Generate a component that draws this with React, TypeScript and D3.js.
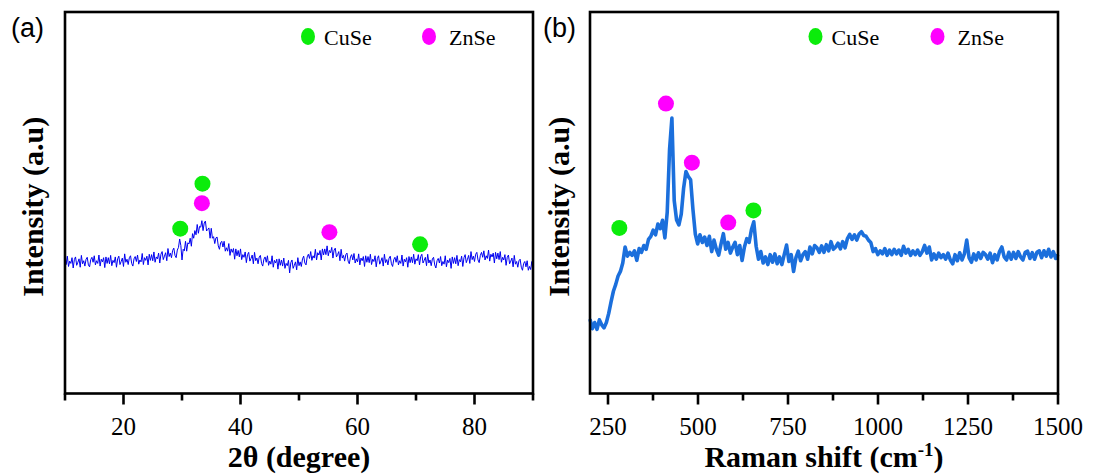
import React from "react";
import * as d3 from "d3";

const W = 1094;
const H = 475;

// XRD pattern: 2θ from 10° to 90° in 0.2° steps
const XRD_START = 10;
const XRD_STEP = 0.2;
const XRD_INTENSITY = [
  35.4, 33.8, 36.0, 33.3, 34.7, 34.1, 35.6, 32.9, 35.1, 35.8,
  33.6, 34.4, 35.3, 33.1, 36.2, 34.0, 34.8, 33.4, 35.2, 35.7,
  33.7, 33.2, 35.1, 35.7, 34.4, 36.1, 33.7, 34.8, 34.1, 36.3,
  33.4, 35.2, 34.5, 35.6, 33.0, 35.8, 34.1, 35.6, 34.0, 36.2,
  33.5, 34.9, 34.3, 35.8, 33.1, 35.3, 36.0, 33.8, 34.6, 35.5,
  33.3, 36.6, 34.4, 35.2, 33.8, 35.6, 36.1, 34.1, 33.4, 35.3,
  35.9, 34.6, 36.3, 33.9, 35.0, 34.5, 36.7, 33.8, 35.6, 34.9,
  36.0, 33.7, 36.5, 34.9, 36.4, 34.8, 37.1, 34.4, 35.8, 35.3,
  36.8, 34.2, 36.5, 37.2, 35.1, 36.0, 36.9, 34.8, 38.0, 35.9,
  36.8, 35.6, 37.5, 38.1, 36.2, 35.6, 37.6, 38.3, 40.5, 38.8,
  35.0, 37.8, 37.4, 39.9, 37.3, 39.5, 39.2, 40.7, 38.6, 41.9,
  40.7, 42.7, 41.6, 44.3, 42.0, 43.8, 43.6, 45.3, 42.7, 44.7,
  45.2, 42.6, 43.0, 43.4, 40.7, 43.3, 40.7, 41.1, 39.3, 40.8,
  41.0, 38.7, 37.8, 39.5, 39.9, 38.4, 39.9, 37.3, 38.2, 37.3,
  39.3, 36.2, 37.9, 37.0, 38.0, 35.2, 37.9, 36.1, 37.5, 35.8,
  37.9, 35.1, 36.4, 35.7, 37.1, 34.3, 36.4, 37.0, 34.7, 35.4,
  36.3, 34.0, 37.0, 34.8, 35.5, 34.0, 35.8, 36.2, 34.1, 33.4,
  35.2, 35.8, 34.4, 36.1, 33.6, 34.7, 33.9, 36.1, 33.1, 34.9,
  34.2, 35.2, 32.6, 35.3, 33.6, 35.0, 33.4, 35.5, 32.8, 34.1,
  33.5, 34.9, 31.6, 34.3, 35.0, 32.8, 33.6, 34.5, 32.4, 35.6,
  33.5, 34.5, 33.3, 35.3, 36.0, 34.2, 33.7, 35.8, 36.5, 35.4,
  37.2, 34.9, 36.1, 35.5, 37.8, 35.0, 36.9, 36.3, 37.5, 35.0,
  37.9, 36.3, 37.9, 36.4, 38.7, 36.1, 37.5, 36.9, 38.3, 35.5,
  37.6, 38.1, 35.8, 36.4, 37.2, 34.8, 37.8, 35.5, 36.2, 34.7,
  36.4, 36.8, 34.7, 34.0, 35.8, 36.4, 35.0, 36.7, 34.2, 35.3,
  34.5, 36.6, 33.7, 35.5, 34.8, 35.9, 33.3, 36.1, 34.4, 35.9,
  34.3, 36.5, 33.8, 35.2, 34.6, 36.1, 33.2, 35.4, 36.1, 33.9,
  34.7, 35.6, 33.4, 36.5, 34.3, 35.1, 33.7, 35.5, 36.0, 34.0,
  33.3, 35.1, 35.7, 34.4, 36.1, 33.7, 34.8, 34.1, 36.3, 33.4,
  35.2, 34.5, 35.6, 33.1, 35.9, 34.3, 35.8, 34.3, 36.5, 33.9,
  35.3, 34.8, 36.4, 33.7, 35.9, 36.5, 34.2, 34.9, 35.7, 33.5,
  36.5, 34.2, 35.0, 33.5, 35.3, 35.7, 33.7, 32.9, 34.8, 35.4,
  34.2, 35.9, 33.5, 34.6, 33.9, 36.1, 33.2, 35.0, 34.3, 35.4,
  32.8, 35.8, 34.1, 35.6, 34.0, 36.2, 33.5, 35.1, 34.5, 36.0,
  33.3, 35.6, 36.4, 34.3, 35.2, 36.2, 34.1, 37.2, 35.1, 36.0,
  34.6, 36.5, 37.0, 35.0, 34.3, 36.2, 37.0, 35.7, 37.4, 35.0,
  36.1, 35.4, 37.6, 34.7, 36.5, 35.8, 36.8, 34.2, 37.0, 35.3,
  36.8, 35.1, 37.2, 34.4, 35.7, 35.0, 36.4, 33.6, 35.7, 36.3,
  34.0, 34.7, 35.5, 33.2, 36.2, 33.9, 34.6, 33.1, 34.8, 35.2,
  33.1, 32.3, 34.1, 34.6, 33.2, 34.8, 32.3, 33.3, 32.5, 34.6,
  31.6,
];
const XRD_DOMAIN = [10, 90];
const XRD_MAJOR_TICKS = [20, 40, 60, 80];
const XRD_MINOR_TICKS = [10, 30, 50, 70, 90];
// assigned reflections [2θ, marker height]
const XRD_CUSE = [[29.7, 43.2], [33.5, 55.0], [70.7, 39.1]];
const XRD_ZNSE = [[33.4, 49.9], [55.2, 42.3]];

// Raman spectrum: 200–1500 cm⁻¹ in 6.5 cm⁻¹ steps
const RAMAN_START = 200;
const RAMAN_STEP = 6.5;
const RAMAN_INTENSITY = [
  19.5, 17.0, 18.6, 16.8, 19.3, 18.0, 17.2, 18.6, 21.0, 24.0,
  26.8, 28.6, 30.8, 32.0, 34.2, 38.4, 36.0, 37.0, 36.2, 37.4,
  34.9, 38.0, 37.0, 38.8, 37.8, 40.4, 41.2, 42.8, 41.6, 44.4,
  43.2, 45.4, 40.8, 47.5, 64.0, 72.2, 50.5, 45.5, 44.2, 47.0,
  53.8, 58.2, 56.9, 56.0, 48.2, 41.8, 39.2, 41.6, 39.6, 41.0,
  38.8, 41.2, 37.2, 40.2, 37.8, 36.3, 39.2, 41.9, 37.8, 39.6,
  36.8, 38.4, 39.6, 36.4, 38.8, 34.9, 38.4, 40.6, 39.6, 43.0,
  45.0, 38.6, 35.2, 37.2, 34.2, 35.8, 33.8, 36.4, 34.4, 36.6,
  34.0, 35.8, 33.8, 36.4, 38.9, 34.6, 36.4, 32.0, 35.6, 37.3,
  34.8, 36.4, 37.2, 35.2, 38.4, 36.6, 38.8, 38.2, 37.0, 38.7,
  37.0, 39.0, 37.4, 39.8, 37.8, 38.4, 39.4, 37.9, 39.8, 38.2,
  40.6, 41.7, 40.4, 41.6, 40.2, 41.8, 42.4, 41.4, 41.2, 40.2,
  39.6, 37.2, 38.0, 36.4, 37.4, 36.6, 38.0, 36.2, 37.6, 36.4,
  37.8, 36.6, 37.6, 36.2, 38.6, 36.8, 37.8, 36.2, 37.4, 36.4,
  37.6, 36.2, 37.2, 38.8, 36.8, 38.4, 35.0, 36.6, 35.2, 36.8,
  35.6, 36.4, 35.2, 36.8, 35.0, 34.0, 36.4, 34.8, 36.9, 35.0,
  36.6, 40.2, 35.6, 34.4, 36.6, 35.0, 36.9, 35.4, 37.0, 36.4,
  35.2, 36.8, 34.3, 36.4, 35.0, 37.2, 38.4, 35.8, 35.0, 37.0,
  35.2, 37.0, 35.4, 37.2, 35.8, 35.0, 37.0, 37.3, 35.4, 36.9,
  35.2, 37.0, 37.4, 35.6, 37.4, 36.0, 37.8, 35.8, 37.2, 35.4,
  36.4,
];
const RAMAN_DOMAIN = [200, 1500];
const RAMAN_MAJOR_TICKS = [250, 500, 750, 1000, 1250, 1500];
const RAMAN_MINOR_TICKS = [375, 625, 875, 1125, 1375];
const RAMAN_CUSE = [[281.5, 43.4], [654, 48.0]];
const RAMAN_ZNSE = [[411, 76.0], [483, 60.5], [584, 44.8]];

const LEGEND = ["CuSe", "ZnSe"];

const INTENSITY_DOMAIN = [0, 100];
const TOP = 12;
const BOTTOM = 393.5;
const GREEN = "#0bec0b";
const MAGENTA = "#ff00ff";
const SERIF = "Liberation Serif, Times New Roman, serif";
const SANS = "Liberation Sans, Arial, sans-serif";

type PanelProps = {
  left: number;
  right: number;
  domain: number[];
  start: number;
  step: number;
  values: number[];
  major: number[];
  minor: number[];
  cuse: number[][];
  znse: number[][];
  color: string;
  width: number;
  tag: string;
  tagX: number;
  yLabelX: number;
  legendX: number[];
  title: React.ReactNode;
};

function Panel(p: PanelProps) {
  const x = d3.scaleLinear().domain(p.domain).range([p.left, p.right]);
  const y = d3.scaleLinear().domain(INTENSITY_DOMAIN).range([BOTTOM, TOP]);
  const line = d3
    .line<number>()
    .x((_, i) => x(p.start + i * p.step))
    .y((d) => y(d));
  const midX = (p.left + p.right) / 2;
  const midY = (TOP + BOTTOM) / 2;
  return (
    <g>
      <text x={p.tagX} y={37} fontFamily={SANS} fontSize={27}>
        {p.tag}
      </text>
      <path
        d={line(p.values) ?? ""}
        fill="none"
        stroke={p.color}
        strokeWidth={p.width}
        strokeLinejoin="round"
      />
      {p.cuse.map(([cx, cy], i) => (
        <circle key={"c" + i} cx={x(cx)} cy={y(cy)} r={8} fill={GREEN} />
      ))}
      {p.znse.map(([cx, cy], i) => (
        <circle key={"z" + i} cx={x(cx)} cy={y(cy)} r={8} fill={MAGENTA} />
      ))}
      {/* legend */}
      <ellipse cx={p.legendX[0]} cy={36.5} rx={7} ry={8.5} fill={GREEN} />
      <text x={p.legendX[0] + 16} y={44.5} fontFamily={SERIF} fontSize={22}>
        {LEGEND[0]}
      </text>
      <ellipse cx={p.legendX[1]} cy={36.5} rx={7} ry={8.5} fill={MAGENTA} />
      <text x={p.legendX[1] + 20} y={44.5} fontFamily={SERIF} fontSize={22}>
        {LEGEND[1]}
      </text>
      {/* frame */}
      <rect
        x={p.left}
        y={TOP}
        width={p.right - p.left}
        height={BOTTOM - TOP}
        fill="none"
        stroke="#000"
        strokeWidth={2.6}
      />
      {p.major.map((t) => (
        <g key={"M" + t}>
          <line x1={x(t)} x2={x(t)} y1={BOTTOM} y2={BOTTOM + 11} stroke="#000" strokeWidth={2.6} />
          <text x={x(t)} y={435} textAnchor="middle" fontFamily={SERIF} fontSize={25}>
            {t}
          </text>
        </g>
      ))}
      {p.minor.map((t) => (
        <line key={"m" + t} x1={x(t)} x2={x(t)} y1={BOTTOM} y2={BOTTOM + 7} stroke="#000" strokeWidth={2.6} />
      ))}
      <text x={midX} y={467} textAnchor="middle" fontFamily={SERIF} fontSize={30} fontWeight="bold">
        {p.title}
      </text>
      <text
        transform={`translate(${p.yLabelX},${midY + 4}) rotate(-90)`}
        textAnchor="middle"
        fontFamily={SERIF}
        fontSize={30}
        fontWeight="bold"
      >
        Intensity (a.u)
      </text>
    </g>
  );
}

export default function App() {
  return (
    <svg width={W} height={H} style={{ display: "block", position: "absolute", left: 0, top: 0, background: "#fff" }}>
      <rect width={W} height={H} fill="#fff" />
      <Panel
        left={65}
        right={533}
        domain={XRD_DOMAIN}
        start={XRD_START}
        step={XRD_STEP}
        values={XRD_INTENSITY}
        major={XRD_MAJOR_TICKS}
        minor={XRD_MINOR_TICKS}
        cuse={XRD_CUSE}
        znse={XRD_ZNSE}
        color="#0000f0"
        width={1}
        tag="(a)"
        tagX={11}
        yLabelX={43}
        legendX={[308, 429]}
        title="2θ (degree)"
      />
      <Panel
        left={590}
        right={1058}
        domain={RAMAN_DOMAIN}
        start={RAMAN_START}
        step={RAMAN_STEP}
        values={RAMAN_INTENSITY}
        major={RAMAN_MAJOR_TICKS}
        minor={RAMAN_MINOR_TICKS}
        cuse={RAMAN_CUSE}
        znse={RAMAN_ZNSE}
        color="#1b6fdc"
        width={3.6}
        tag="(b)"
        tagX={543}
        yLabelX={569}
        legendX={[815.5, 937.5]}
        title={
          <>
            Raman shift (cm
            <tspan dy={-11} fontSize={19}>
              -1
            </tspan>
            <tspan dy={11}>)</tspan>
          </>
        }
      />
    </svg>
  );
}
